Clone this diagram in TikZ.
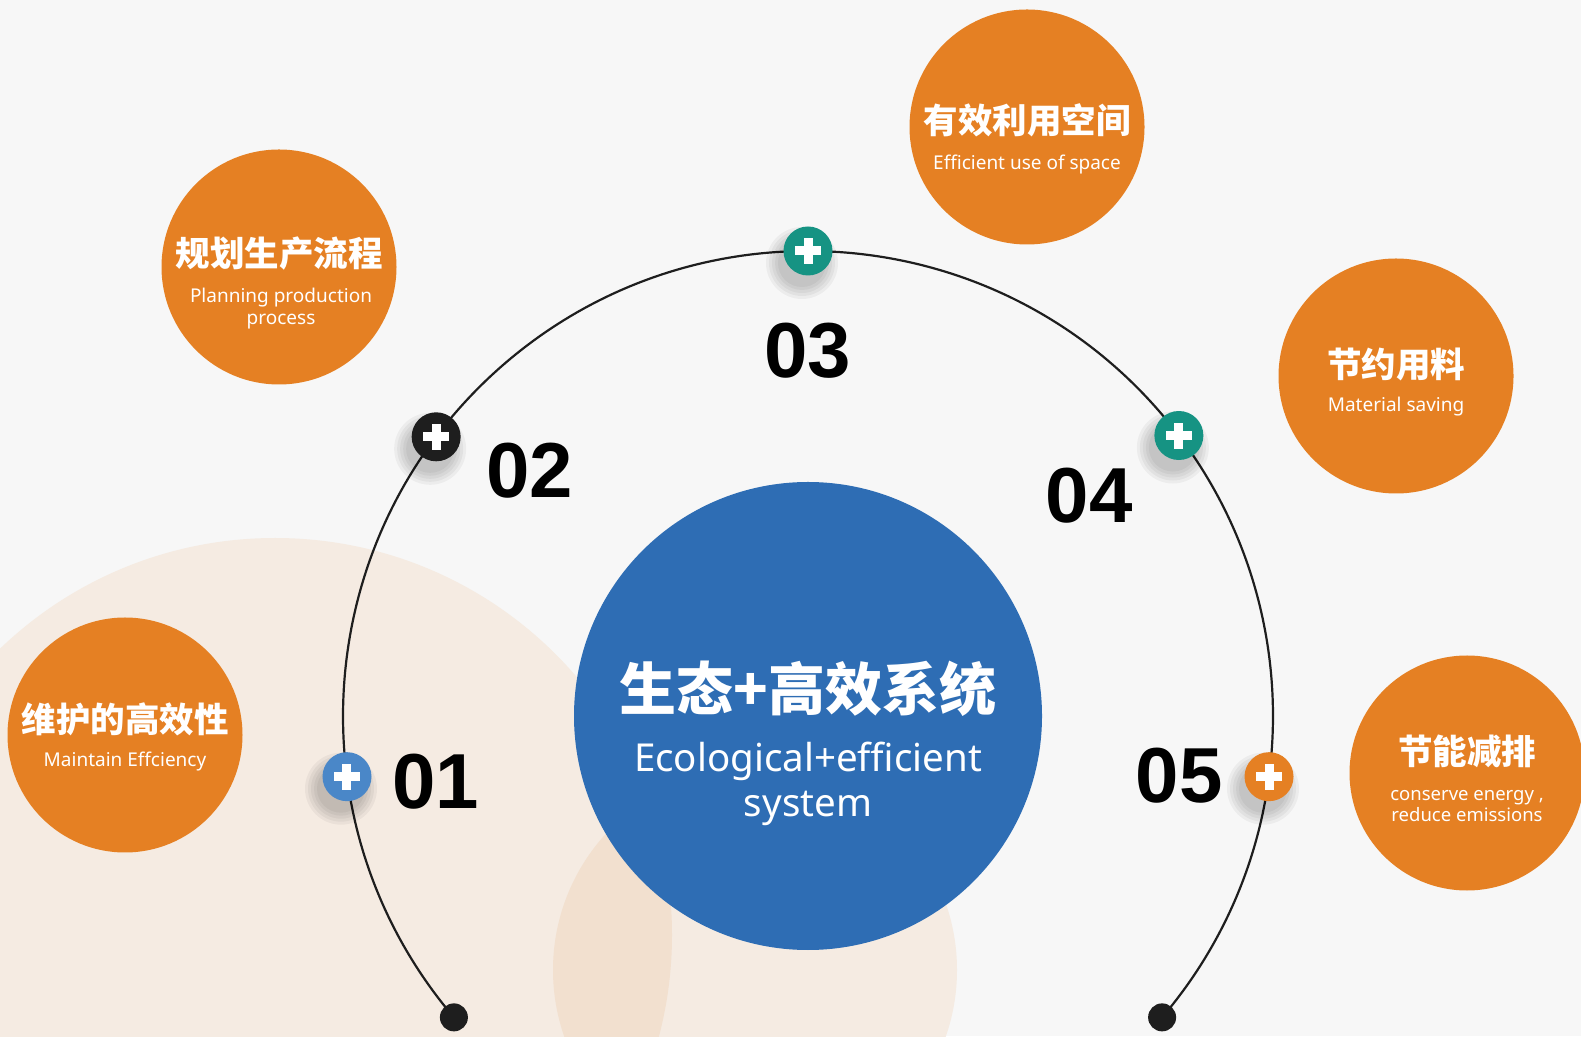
\documentclass[tikz,border=0pt]{standalone}
\usepackage{fontspec}
\setmainfont{Noto Sans}
\newfontfamily\cjk{Noto Sans CJK SC}
\newfontfamily\numfont{Liberation Sans}
\definecolor{bg}{HTML}{F7F7F7}
\definecolor{peach}{HTML}{F5EBE2}
\definecolor{peachdark}{HTML}{F2E0CF}
\definecolor{mainblue}{HTML}{2E6DB4}
\definecolor{orng}{HTML}{E58023}
\definecolor{teal}{HTML}{169383}
\definecolor{lblue}{HTML}{4A87C8}
\definecolor{dark}{HTML}{1E1E1E}
\tikzset{
  bubble/.style={circle, fill=orng, minimum size=235pt, inner sep=0pt},
  ttl/.style={text=white, font=\cjk\bfseries\fontsize{34.5}{38}\selectfont, inner sep=0pt},
  sub/.style={text=white, font=\fontsize{19}{22}\selectfont, inner sep=0pt, align=center},
  num/.style={text=black, font=\numfont\bfseries\fontsize{78}{80}\selectfont, inner sep=0pt},
  enddot/.style={circle, fill=dark, minimum size=28pt, inner sep=0pt},
}
\newcommand{\plusmark}[3]{%
  % #1 name, #2 position, #3 colour
  \foreach \r in {36,33,30,27,24}{
    \fill[black, opacity=0.045] ($(#2)+(-6,-12)$) circle (\r pt);
  }
  \node[circle, fill=#3, minimum size=49pt, inner sep=0pt] (#1) at (#2) {};
  \fill[white] ($(#1)+(-13,-4.5)$) rectangle ($(#1)+(13,4.5)$);
  \fill[white] ($(#1)+(-4.5,-13)$) rectangle ($(#1)+(4.5,13)$);
}
\usetikzlibrary{calc}
\begin{document}
\begin{tikzpicture}[x=1pt,y=1pt]
\useasboundingbox (0,0) rectangle (1581,1036);
\fill[bg] (0,0) rectangle (1581,1036);
% peach background circles
\begin{scope}
  \clip (0,0) rectangle (1581,1036);
  \fill[peach] (275,101) circle (397);
  \fill[peach] (755,66) circle (202);
  \begin{scope}
    \clip (275,101) circle (397);
    \fill[peachdark] (755,66) circle (202);
  \end{scope}
\end{scope}
% arc
\coordinate (C) at (808,320);
\draw[dark, line width=2.2pt] ($(C)+(220.4:465)$) arc[start angle=220.4, end angle=-40.4, radius=465];
% central circle
\node[circle, fill=mainblue, minimum size=468pt, inner sep=0pt] (center) at (C) {};
\node[text=white, font=\cjk\bfseries\fontsize{57}{62}\selectfont, inner sep=0pt] (ctitle) at (808,347) {生态+高效系统};
\node[text=white, font=\fontsize{38.5}{45}\selectfont, inner sep=0pt, align=center] (csub) at (808,252) {Ecological+efficient\\system};
% bubbles
\node[bubble] (b3) at (1027,909) {};
\node[ttl] (t3) at (1027,916) {有效利用空间};
\node[sub] (s3) at (1027,871) {Efficient use of space};
\node[bubble] (b2) at (279,769) {};
\node[ttl] (t2) at (279,782) {规划生产流程};
\node[sub] (s2) at (281,727) {Planning production\\process};
\node[bubble] (b4) at (1396,660) {};
\node[ttl] (t4) at (1396,672) {节约用料};
\node[sub] (s4) at (1396,629) {Material saving};
\node[bubble] (b1) at (125,301) {};
\node[ttl] (t1) at (125,317) {维护的高效性};
\node[sub] (s1) at (125,274) {Maintain Effciency};
\node[bubble] (b5) at (1467,263) {};
\node[ttl] (t5) at (1467,285) {节能减排};
\node[sub, font=\fontsize{18.5}{21}\selectfont] (s5) at (1467,230) {conserve energy ,\\reduce emissions};
% markers
\coordinate (p1) at ($(C)+(187.5:465)$);
\coordinate (p2) at ($(C)+(143.1:465)$);
\coordinate (p3) at ($(C)+(90:465)$);
\coordinate (p4) at ($(C)+(37.1:465)$);
\coordinate (p5) at ($(C)+(-7.5:465)$);
\plusmark{m1}{p1}{lblue}
\plusmark{m2}{p2}{dark}
\plusmark{m3}{p3}{teal}
\plusmark{m4}{p4}{teal}
\plusmark{m5}{p5}{orng}
% end dots
\node[enddot] (d1) at ($(C)+(220.4:465)$) {};
\node[enddot] (d2) at ($(C)+(-40.4:465)$) {};
% numbers
\node[num] (n1) at (436,254) {01};
\node[num] (n2) at (530,565) {02};
\node[num] (n3) at (808,685) {03};
\node[num] (n4) at (1089,540) {04};
\node[num] (n5) at (1179,260) {05};
\end{tikzpicture}
\end{document}
